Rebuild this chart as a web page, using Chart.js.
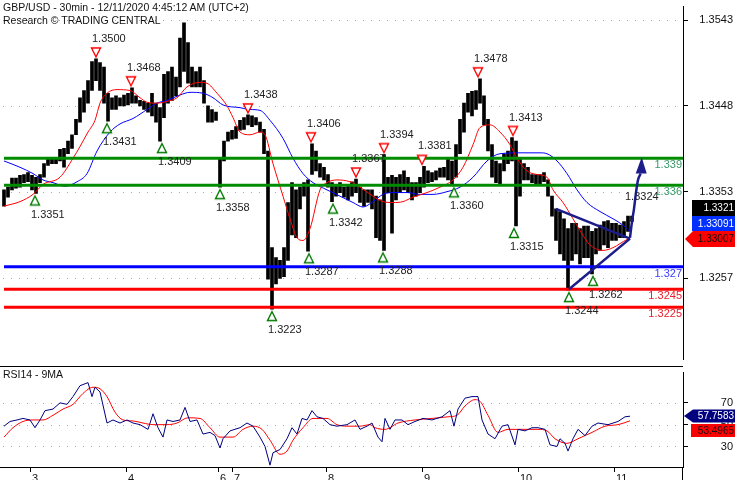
<!DOCTYPE html>
<html>
<head>
<meta charset="utf-8">
<script src="https://cdn.jsdelivr.net/npm/chart.js@4.4.1/dist/chart.umd.min.js"></script>
<style>
  html, body { margin: 0; padding: 0; background: #fff; overflow: hidden; }
  #wrap { position: relative; width: 735px; height: 480px; }
  #prix { position: absolute; left: 0; top: 0; }
  #rsi { position: absolute; left: 0; top: 366px; }
  .txt { position: absolute; font: 10.5px "Liberation Sans", Arial, sans-serif; color: #111; white-space: nowrap; line-height: 13px; }
</style>
</head>
<body>
<div id="wrap">
  <canvas id="prix" width="735" height="366"></canvas>
  <canvas id="rsi" width="735" height="114"></canvas>
  <div class="txt" style="left:3px;top:1px">GBP/USD - 30min - 12/11/2020 4:45:12 AM (UTC+2)</div>
  <div class="txt" style="left:3px;top:14px">Research © TRADING CENTRAL</div>
  <div class="txt" style="left:3px;top:368px">RSI14 - 9MA</div>
</div>
<script>
// one bar every 2 half-hour slots
const barStep = 2;
const barHigh = [
  1.3355, 1.3358, 1.3368, 1.3368, 1.3371, 1.3372, 1.3374, 1.3371, 1.3369, 1.3372,
  1.3384, 1.3389, 1.3389, 1.3390, 1.3400, 1.3401, 1.3409, 1.3416, 1.3433, 1.3457,
  1.3465, 1.3476, 1.3497, 1.3500, 1.3496, 1.3491, 1.3462, 1.3457, 1.3459, 1.3457,
  1.3460, 1.3462, 1.3468, 1.3459, 1.3454, 1.3453, 1.3451, 1.3462, 1.3451, 1.3446,
  1.3483, 1.3486, 1.3491, 1.3480, 1.3523, 1.3540, 1.3518, 1.3491, 1.3486, 1.3491,
  1.3476, 1.3448, 1.3444, 1.3441, 1.3390, 1.3409, 1.3419, 1.3421, 1.3425, 1.3432,
  1.3435, 1.3438, 1.3437, 1.3435, 1.3430, 1.3422, 1.3398, 1.3291, 1.3280, 1.3277,
  1.3291, 1.3341, 1.3363, 1.3355, 1.3358, 1.3363, 1.3366, 1.3406, 1.3398, 1.3384,
  1.3380, 1.3372, 1.3363, 1.3361, 1.3363, 1.3358, 1.3361, 1.3364, 1.3367, 1.3358,
  1.3355, 1.3355, 1.3355, 1.3348, 1.3344, 1.3394, 1.3369, 1.3371, 1.3369, 1.3372,
  1.3376, 1.3369, 1.3363, 1.3363, 1.3369, 1.3381, 1.3376, 1.3374, 1.3376, 1.3379,
  1.3380, 1.3389, 1.3387, 1.3405, 1.3433, 1.3451, 1.3462, 1.3464, 1.3465, 1.3478,
  1.3459, 1.3433, 1.3405, 1.3387, 1.3384, 1.3395, 1.3398, 1.3413, 1.3409, 1.3390,
  1.3384, 1.3380, 1.3372, 1.3372, 1.3372, 1.3374, 1.3366, 1.3348, 1.3334, 1.3331,
  1.3323, 1.3312, 1.3318, 1.3318, 1.3312, 1.3315, 1.3315, 1.3309, 1.3312, 1.3316,
  1.3320, 1.3321, 1.3318, 1.3318, 1.3316, 1.3320, 1.3326, 1.3326
];
const barLow = [
  1.3337, 1.3347, 1.3355, 1.3357, 1.3358, 1.3363, 1.3364, 1.3355, 1.3351, 1.3363,
  1.3369, 1.3382, 1.3384, 1.3384, 1.3387, 1.3380, 1.3395, 1.3401, 1.3416, 1.3430,
  1.3441, 1.3451, 1.3465, 1.3476, 1.3465, 1.3451, 1.3431, 1.3444, 1.3444, 1.3448,
  1.3448, 1.3449, 1.3451, 1.3451, 1.3448, 1.3444, 1.3441, 1.3437, 1.3430, 1.3409,
  1.3435, 1.3451, 1.3454, 1.3459, 1.3469, 1.3486, 1.3473, 1.3469, 1.3469, 1.3469,
  1.3451, 1.3430, 1.3430, 1.3432, 1.3358, 1.3387, 1.3409, 1.3411, 1.3412, 1.3421,
  1.3422, 1.3427, 1.3425, 1.3427, 1.3419, 1.3395, 1.3256, 1.3223, 1.3251, 1.3257,
  1.3259, 1.3277, 1.3305, 1.3302, 1.3334, 1.3348, 1.3287, 1.3372, 1.3376, 1.3369,
  1.3366, 1.3358, 1.3342, 1.3348, 1.3352, 1.3347, 1.3344, 1.3348, 1.3352, 1.3341,
  1.3337, 1.3341, 1.3334, 1.3302, 1.3299, 1.3288, 1.3352, 1.3307, 1.3344, 1.3352,
  1.3355, 1.3352, 1.3344, 1.3348, 1.3352, 1.3358, 1.3363, 1.3364, 1.3366, 1.3369,
  1.3369, 1.3366, 1.3360, 1.3369, 1.3395, 1.3419, 1.3441, 1.3437, 1.3444, 1.3451,
  1.3427, 1.3398, 1.3369, 1.3363, 1.3361, 1.3376, 1.3384, 1.3387, 1.3315, 1.3348,
  1.3366, 1.3366, 1.3363, 1.3361, 1.3361, 1.3364, 1.3348, 1.3326, 1.3299, 1.3284,
  1.3277, 1.3244, 1.3277, 1.3284, 1.3273, 1.3280, 1.3280, 1.3262, 1.3284, 1.3288,
  1.3294, 1.3291, 1.3299, 1.3299, 1.3302, 1.3302, 1.3309, 1.3320
];

// moving averages (bar index, price)
const redMaX = [0, 8, 14.5, 19.5, 28, 34.5, 38, 42, 45.5, 48, 51.5, 56.5, 63, 68, 71.5, 76.5, 81.5, 86.5, 91.5, 98,
  101.5, 106.5, 111.5, 114.5, 118, 123, 128, 130.5, 134.5, 139.5, 143, 146.5, 149.5, 153, 158, 161.5, 166.5, 173, 178, 184.5,
  189.5, 194.5, 199.5, 204.5, 211.5, 218, 224.5, 229.5, 234.5, 238, 243, 248, 253, 256.5, 261.5, 266.5, 271.5, 274.5, 279.5, 284.5,
  288, 293, 299.5, 304.5, 311.5, 313];
const redMaY = [1.3337, 1.3342, 1.3350, 1.3361, 1.3369, 1.3390, 1.3403, 1.3419, 1.3432, 1.3451, 1.3462, 1.3466, 1.3465, 1.3457, 1.3452, 1.3451, 1.3453, 1.3457, 1.3469, 1.3474,
  1.3473, 1.3462, 1.3448, 1.3435, 1.3419, 1.3416, 1.3419, 1.3416, 1.3384, 1.3348, 1.3323, 1.3302, 1.3299, 1.3312, 1.3355, 1.3363, 1.3366, 1.3364, 1.3358, 1.3348,
  1.3342, 1.3341, 1.3342, 1.3347, 1.3352, 1.3358, 1.3366, 1.3380, 1.3405, 1.3424, 1.3427, 1.3419, 1.3405, 1.3390, 1.3376, 1.3372, 1.3369, 1.3355, 1.3341, 1.3323,
  1.3310, 1.3294, 1.3288, 1.3291, 1.3300, 1.3301];
const blueMaX = [0, 8, 14.5, 19.5, 24.5, 30.5, 36.5, 41.5, 46.5, 53, 58, 64.5, 71.5, 76.5, 81.5, 88, 93, 99.5, 104.5, 109.5,
  118, 123, 128, 133, 139.5, 144.5, 149.5, 154.5, 161.5, 168, 174.5, 179.5, 184.5, 189.5, 194.5, 201.5, 208, 214.5, 221.5, 228,
  234.5, 241.5, 248, 258, 268, 271.5, 276.5, 281.5, 286.5, 291.5, 298, 304.5, 309.5, 313];
const blueMaY = [1.3387, 1.3380, 1.3373, 1.3366, 1.3363, 1.3359, 1.3364, 1.3373, 1.3398, 1.3419, 1.3428, 1.3434, 1.3444, 1.3451, 1.3454, 1.3460, 1.3463, 1.3462, 1.3457, 1.3449,
  1.3446, 1.3444, 1.3443, 1.3432, 1.3412, 1.3390, 1.3373, 1.3363, 1.3355, 1.3348, 1.3341, 1.3336, 1.3342, 1.3350, 1.3352, 1.3352, 1.3350, 1.3350, 1.3353, 1.3358,
  1.3369, 1.3387, 1.3395, 1.3396, 1.3396, 1.3395, 1.3387, 1.3373, 1.3355, 1.3341, 1.3331, 1.3323, 1.3316, 1.3309];

const priceTicks = [1.3257, 1.3353, 1.3448, 1.3543];

// support / resistance levels
const levelValues = [1.339, 1.336, 1.327, 1.3245, 1.3225];
const levelLabels = ['1.339', '1.336', '1.327', '1.3245', '1.3225'];
const levelColors = ['#008c00', '#008c00', '#0000ff', '#ff0000', '#ff0000'];
const levelTextColors = ['#3a9a6a', '#3a9a6a', '#3b3bff', '#e8202a', '#e8202a'];

// swing highs / lows
const hiX = [46, 63.5, 122, 153.5, 176, 190, 209, 237, 254.5];
const hiY = [1.3500, 1.3468, 1.3438, 1.3406, 1.3367, 1.3394, 1.3381, 1.3478, 1.3413];
const loX = [15.5, 51.5, 79, 108, 134, 152.5, 164.5, 189.5, 225, 255, 282.5, 294.5];
const loY = [1.3351, 1.3431, 1.3409, 1.3358, 1.3223, 1.3287, 1.3342, 1.3288, 1.3360, 1.3315, 1.3244, 1.3262];

// triangle pattern and target arrow
const triTopX = [276, 313], triTopY = [1.3334, 1.3301];
const triBotX = [282.5, 313], triBotY = [1.3245, 1.3301];
const arrowX = [313, 314, 315, 316, 317, 318.35];
const arrowY = [1.3302, 1.3320, 1.3334, 1.3352, 1.3366, 1.3373];
const arrowHeadX = [318.85, 315.85, 321.35];
const arrowHeadY = [1.3391, 1.3373, 1.3373];
const targetText = '1.3324', targetX = 310.5, targetY = 1.3347;

const lastClose = 1.3321, lastBlue = 1.33091, lastRed = 1.33007;

// days
const dayTicks = [13, 61, 107, 114, 161, 209, 257, 305];
const dayLabels = ['3', '4', '6', '7', '8', '9', '10', '11'];

// RSI panel
const rsiX = [0, 3, 6.5, 9.5, 13, 15.5, 18, 20.5, 24.5, 28, 31.5, 34.5, 38, 42, 44, 45.5, 48, 51.5, 54.5, 58,
  61.5, 64.5, 68, 72, 74.5, 77, 79.5, 81.5, 84.5, 88, 90.5, 93, 96.5, 99.5, 103, 105.5, 108, 109.5, 113, 118,
  121.5, 124.5, 128, 130.5, 133, 134.5, 138, 141.5, 144, 146.5, 149, 151.5, 154, 156.5, 159.5, 163, 166.5, 171.5, 175.5, 178,
  181.5, 184, 187, 189, 190.5, 193, 195.5, 199, 202, 205.5, 209.5, 214, 219, 223, 225, 227, 230.5, 234, 237, 239,
  242, 245.5, 249, 252, 255.5, 257, 260.5, 264, 267, 270.5, 273, 276.5, 278, 280.5, 282, 284.5, 287, 290.5, 294, 297,
  302, 307, 310.5, 313];
const rsiY = [48.6, 52.9, 54.3, 55.7, 54.3, 47.2, 54.3, 62.8, 64.3, 70, 68.6, 75.7, 85.7, 88.5, 75.7, 84.3, 80, 51.5, 54.3, 51.5,
  54.3, 51.5, 50, 45.7, 60, 47.2, 38.6, 54.3, 52.9, 54.3, 65.8, 52.9, 54.3, 41.4, 42.9, 40, 28.6, 37.1, 44.3, 47.2,
  51.5, 48.6, 38.6, 30, 12.9, 24.3, 27.2, 37.1, 47.2, 41.4, 55.7, 54.3, 62.8, 57.2, 55.7, 50, 48.6, 50, 54.3, 45.7,
  48.6, 51.5, 38.6, 34.3, 55.7, 45.7, 54.3, 54.3, 50, 52.9, 55.7, 54.3, 57.2, 62.8, 48.6, 64.3, 74.3, 75.7, 75.7, 54.3,
  41.4, 37.1, 48.6, 50, 31.5, 45.7, 44.3, 47.2, 47.2, 45.7, 31.5, 30, 37.1, 32.9, 25.8, 37.1, 45.7, 40, 48.6, 51.5,
  50, 52.9, 57.2, 57.76];
const rsiMaX = [0, 4.5, 9.5, 14.5, 19.5, 24.5, 29.5, 34.5, 39.5, 44.5, 48, 51.5, 55.5, 59.5, 64.5, 69.5, 74.5, 81.5, 86.5, 92,
  98, 103, 108, 114.5, 119.5, 124.5, 129, 133, 138, 141.5, 144.5, 149.5, 154.5, 161.5, 166.5, 171.5, 178, 183, 185.5, 190.5,
  197, 205.5, 214, 222, 226.5, 230.5, 235.5, 238, 242, 247, 252, 259, 267, 271.5, 275.5, 281.5, 287, 294, 300.5, 307, 313];
const rsiMaY = [38.6, 47.2, 52.9, 54.3, 54.3, 58.6, 64.3, 68.6, 78.6, 84.3, 82.9, 75.7, 61.5, 54.3, 53.4, 51.5, 50, 50, 51.5, 56.3,
  55.7, 47.2, 38.6, 38.6, 45.7, 48.6, 45.7, 35.8, 22.9, 25.8, 35.8, 47.2, 55.7, 55.7, 50, 48.6, 48.6, 50, 47.2, 45.7,
  51.5, 54.3, 55.7, 57.2, 58.6, 67.1, 72.9, 71.4, 58.6, 42.9, 45.7, 45.7, 45.7, 44.3, 37.1, 32.9, 37.1, 42.9, 48.6, 50, 53.5];
const rsiTicks = [30, 50, 70];
const lastRsi = 57.7583, lastRsiMa = 53.4965;

const X_MIN = -2, X_MAX = 339.5;
const FONT = '11px "Liberation Sans", Arial, sans-serif';
const BADGE_FONT = '10px "Liberation Sans", Arial, sans-serif';
const GRID_KLEUR = '#a8a8a8';

Chart.defaults.font.family = '"Liberation Sans", Arial, sans-serif';
Chart.defaults.font.size = 11;
Chart.defaults.color = '#111';

function pts(xs, ys) {
  return xs.map((x, i) => ({ x: x, y: ys[i] }));
}

function ligne(xs, ys, kleur, dikte, volgorde, smooth) {
  return {
    type: 'line',
    data: pts(xs, ys),
    borderColor: kleur,
    borderWidth: dikte,
    pointRadius: 0,
    fill: false,
    cubicInterpolationMode: smooth ? 'monotone' : 'default',
    tension: 0,
    order: volgorde
  };
}

// hollow triangles, drawn off-centre so they sit just above / below the price
function markerImg(up, kleur) {
  const c = document.createElement('canvas');
  c.width = 14; c.height = 30;
  const g = c.getContext('2d');
  g.strokeStyle = kleur; g.lineWidth = 1.4; g.fillStyle = '#fff';
  g.beginPath();
  if (up) { g.moveTo(7, 17.5); g.lineTo(11.5, 26.5); g.lineTo(2.5, 26.5); }
  else { g.moveTo(2.5, 4); g.lineTo(11.5, 4); g.lineTo(7, 13); }
  g.closePath(); g.fill(); g.stroke();
  return c;
}

function badge(ctx, x0, y0, h, bg, fg, txt, arrowTip) {
  ctx.fillStyle = bg;
  ctx.beginPath();
  if (arrowTip !== undefined) {
    ctx.moveTo(arrowTip, y0 + h / 2);
    ctx.lineTo(x0, y0);
  } else {
    ctx.moveTo(x0, y0);
  }
  ctx.lineTo(735, y0);
  ctx.lineTo(735, y0 + h);
  ctx.lineTo(x0, y0 + h);
  ctx.closePath();
  ctx.fill();
  ctx.fillStyle = fg;
  ctx.textAlign = 'right';
  ctx.textBaseline = 'middle';
  ctx.fillText(txt, 734, y0 + h / 2 + 0.5);
}

// dotted horizontal grid at the tick values
function stippel(chart, waarden) {
  const { ctx, chartArea } = chart;
  const ys = chart.scales.y;
  ctx.save();
  ctx.fillStyle = GRID_KLEUR;
  waarden.forEach(v => {
    const py = Math.round(ys.getPixelForValue(v));
    for (let px = chartArea.left + 3; px < chartArea.right; px += 8) {
      ctx.fillRect(px, py, 1, 1);
    }
  });
  ctx.restore();
}

const prixTexte = {
  id: 'prixTexte',
  beforeDatasetsDraw(chart) {
    stippel(chart, priceTicks);
  },
  afterDatasetsDraw(chart) {
    const { ctx, chartArea } = chart;
    const xs = chart.scales.x, ys = chart.scales.y;
    ctx.save();
    ctx.font = FONT;
    ctx.textBaseline = 'middle';
    ctx.textAlign = 'left';
    ctx.fillStyle = '#222';
    hiX.forEach((v, i) => {
      ctx.fillText(hiY[i].toFixed(4), xs.getPixelForValue(v) - 4, ys.getPixelForValue(hiY[i]) - 20);
    });
    loX.forEach((v, i) => {
      ctx.fillText(loY[i].toFixed(4), xs.getPixelForValue(v) - 4, ys.getPixelForValue(loY[i]) + 21);
    });
    ctx.fillText(targetText, xs.getPixelForValue(targetX), ys.getPixelForValue(targetY));

    ctx.textAlign = 'right';
    levelValues.forEach((v, i) => {
      ctx.fillStyle = levelTextColors[i];
      ctx.fillText(levelLabels[i], chartArea.right - 1, ys.getPixelForValue(v) + 7);
    });

    // arrow head
    ctx.fillStyle = '#1c1c8a';
    ctx.beginPath();
    arrowHeadX.forEach((v, i) => {
      const px = xs.getPixelForValue(v), py = ys.getPixelForValue(arrowHeadY[i]);
      if (i === 0) ctx.moveTo(px, py); else ctx.lineTo(px, py);
    });
    ctx.closePath();
    ctx.fill();
    ctx.restore();
  },
  afterDraw(chart) {
    const { ctx } = chart;
    const ys = chart.scales.y;
    ctx.save();
    ctx.font = BADGE_FONT;
    const yr = Math.round(ys.getPixelForValue(lastRed));
    badge(ctx, 693, yr - 8, 16, '#ff0000', '#111', lastRed.toFixed(5), 685);
    badge(ctx, 692, yr - 23, 15, '#0030ff', '#fff', lastBlue.toFixed(5));
    badge(ctx, 692, yr - 39, 16, '#000', '#fff', lastClose.toFixed(4));
    ctx.restore();
  }
};

new Chart(document.getElementById('prix'), {
  type: 'bar',
  data: {
    datasets: [
      {
        type: 'bar',
        data: barHigh.map((h, i) => ({ x: i * barStep, y: [barLow[i], h] })),
        backgroundColor: '#000',
        barThickness: 3,
        order: 10
      },
      ligne(redMaX, redMaY, '#ff0000', 1, 6, true),
      ligne(blueMaX, blueMaY, '#0000ff', 1, 6, true),
      ...levelValues.map((v, i) => ligne([0, X_MAX], [v, v], levelColors[i], 3, 4, false)),
      ligne(triTopX, triTopY, '#1c1c8a', 2.5, 3, false),
      ligne(triBotX, triBotY, '#1c1c8a', 2.5, 3, false),
      ligne(arrowX, arrowY, '#1c1c8a', 2.5, 3, true),
      { type: 'line', data: pts(hiX, hiY), showLine: false, pointStyle: markerImg(false, '#ff0000'), pointRadius: 7, order: 1 },
      { type: 'line', data: pts(loX, loY), showLine: false, pointStyle: markerImg(true, '#007a00'), pointRadius: 7, order: 1 }
    ]
  },
  options: {
    responsive: false,
    animation: false,
    devicePixelRatio: 1,
    layout: { padding: { left: 0, right: 2, top: 0, bottom: 0 }, autoPadding: false },
    plugins: { legend: { display: false }, tooltip: { enabled: false } },
    scales: {
      x: { type: 'linear', display: false, min: X_MIN, max: X_MAX, offset: false },
      y: {
        type: 'linear',
        position: 'right',
        min: 1.31673,
        max: 1.35579,
        beginAtZero: false,
        afterFit: s => { s.width = 50; },
        afterBuildTicks: s => { s.ticks = priceTicks.map(v => ({ value: v })); },
        ticks: { callback: v => v.toFixed(4), crossAlign: 'far', padding: 0, color: '#111', font: { size: 11 } },
        grid: { drawOnChartArea: false, tickColor: '#000', tickLength: 5 },
        border: { display: true, color: '#000', width: 1 }
      }
    }
  },
  plugins: [prixTexte]
});

const rsiTexte = {
  id: 'rsiTexte',
  beforeDatasetsDraw(chart) {
    stippel(chart, rsiTicks);
  },
  afterDraw(chart) {
    const { ctx, chartArea } = chart;
    const ys = chart.scales.y;
    ctx.save();
    ctx.fillStyle = '#000';
    ctx.fillRect(0, 0, chartArea.right, 1);
    // right border runs on to the bottom edge
    ctx.fillRect(Math.round(chartArea.right) - 1, chartArea.bottom, 1, chart.height - chartArea.bottom);
    ctx.font = BADGE_FONT;
    const yv = Math.round(ys.getPixelForValue(lastRsi));
    badge(ctx, 693, yv - 6.5, 13, '#000080', '#fff', lastRsi.toFixed(4), 684);
    badge(ctx, 691, yv + 8, 13, '#ff0000', '#111', lastRsiMa.toFixed(4));
    ctx.restore();
  }
};

new Chart(document.getElementById('rsi'), {
  type: 'line',
  data: {
    datasets: [
      ligne(rsiMaX, rsiMaY, '#ff0000', 1, 2, true),
      ligne(rsiX, rsiY, '#000080', 1, 1, false)
    ]
  },
  options: {
    responsive: false,
    animation: false,
    devicePixelRatio: 1,
    layout: { padding: { left: 0, right: 2, top: 0, bottom: 0 }, autoPadding: false },
    plugins: { legend: { display: false }, tooltip: { enabled: false } },
    scales: {
      x: {
        type: 'linear',
        position: 'bottom',
        min: X_MIN,
        max: X_MAX,
        offset: false,
        afterFit: s => { s.height = 13; },
        afterBuildTicks: s => { s.ticks = dayTicks.map(v => ({ value: v })); },
        ticks: {
          autoSkip: false, maxRotation: 0, align: 'start', labelOffset: 2, padding: 0,
          color: '#111', font: { size: 11 },
          callback: (v, i) => dayLabels[i]
        },
        grid: { drawOnChartArea: false, tickLength: 5, color: '#000' },
        border: { display: true, color: '#000', width: 1 }
      },
      y: {
        type: 'linear',
        position: 'right',
        min: 11.2,
        max: 97.7,
        afterFit: s => { s.width = 50; },
        afterBuildTicks: s => { s.ticks = rsiTicks.map(v => ({ value: v })); },
        ticks: { callback: v => String(v), crossAlign: 'far', padding: 0, color: '#111', font: { size: 11 } },
        grid: { drawOnChartArea: false, tickColor: '#000', tickLength: 5 },
        border: { display: true, color: '#000', width: 1 }
      }
    }
  },
  plugins: [rsiTexte]
});
</script>
</body>
</html>
